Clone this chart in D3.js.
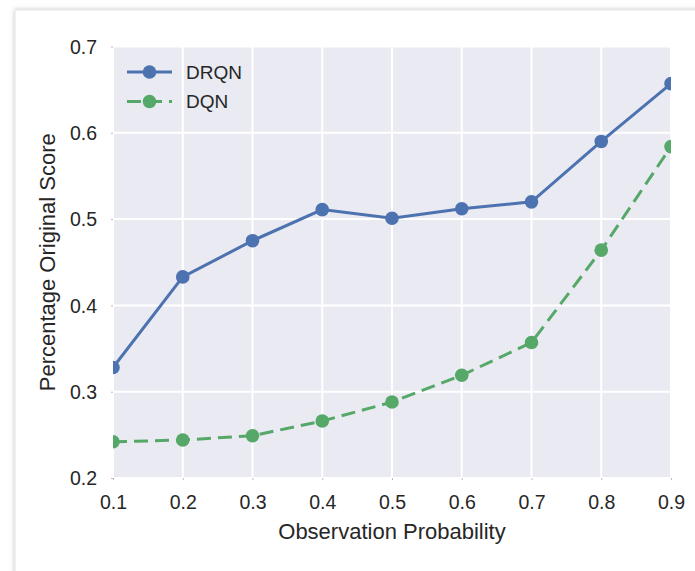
<!DOCTYPE html>
<html>
<head>
<meta charset="utf-8">
<script src="https://cdn.jsdelivr.net/npm/d3@7"></script>
<style>
  html, body { margin: 0; padding: 0; background: #fff; }
  svg { display: block; font-family: "Liberation Sans", Arial, sans-serif; }
</style>
</head>
<body>
<div id="chart"></div>
<script>
const probs = [0.1, 0.2, 0.3, 0.4, 0.5, 0.6, 0.7, 0.8, 0.9];
const drqn = [0.328, 0.433, 0.475, 0.511, 0.501, 0.512, 0.520, 0.590, 0.657];
const dqn = [0.242, 0.244, 0.249, 0.266, 0.288, 0.319, 0.357, 0.464, 0.584];
const xTicks = [0.1, 0.2, 0.3, 0.4, 0.5, 0.6, 0.7, 0.8, 0.9];
const yTicks = [0.2, 0.3, 0.4, 0.5, 0.6, 0.7];

const series = [
  { name: 'DRQN', values: drqn, color: '#4C72B0', dash: null },
  { name: 'DQN', values: dqn, color: '#55A868', dash: '14,7' }
];

const W = 695, H = 571;
const m = { left: 113, right: 24, top: 46.5, bottom: 93 };

const svg = d3.select('#chart').append('svg')
  .attr('width', W).attr('height', H);

// card frame with soft shadow
const defs = svg.append('defs');
const f = defs.append('filter').attr('id', 'sh')
  .attr('x', '-5%').attr('y', '-5%').attr('width', '110%').attr('height', '110%');
f.append('feDropShadow').attr('dx', 0).attr('dy', 0)
  .attr('stdDeviation', 2).attr('flood-color', '#000').attr('flood-opacity', 0.25);
svg.append('rect')
  .attr('x', 15).attr('y', 10).attr('width', W + 20).attr('height', H + 20)
  .attr('fill', '#fff').attr('stroke', '#e4e4e4').attr('filter', 'url(#sh)');

const x = d3.scaleLinear().domain([0.1, 0.9]).range([m.left, W - m.right]);
const y = d3.scaleLinear().domain([0.2, 0.7]).range([H - m.bottom, m.top]);

defs.append('clipPath').attr('id', 'clip').append('rect')
  .attr('x', x(0.1)).attr('y', y(0.7))
  .attr('width', x(0.9) - x(0.1)).attr('height', y(0.2) - y(0.7));

svg.append('rect')
  .attr('x', x(0.1)).attr('y', y(0.7))
  .attr('width', x(0.9) - x(0.1)).attr('height', y(0.2) - y(0.7))
  .attr('fill', '#EAEAF2');

// grid
const grid = svg.append('g');
grid.selectAll('.gx').data(xTicks).join('line')
  .attr('x1', d => x(d)).attr('x2', d => x(d))
  .attr('y1', y(0.2)).attr('y2', y(0.7))
  .attr('stroke', '#fff').attr('stroke-width', 2);
grid.selectAll('.gy').data(yTicks).join('line')
  .attr('y1', d => y(d)).attr('y2', d => y(d))
  .attr('x1', x(0.1)).attr('x2', x(0.9))
  .attr('stroke', '#fff').attr('stroke-width', 2);

// axes
const xAxis = svg.append('g')
  .attr('transform', `translate(0,${y(0.2)})`)
  .call(d3.axisBottom(x).tickValues(xTicks).tickFormat(d3.format('.1f')).tickSize(2).tickPadding(13));
const yAxis = svg.append('g')
  .attr('transform', `translate(${x(0.1)},0)`)
  .call(d3.axisLeft(y).tickValues(yTicks).tickFormat(d3.format('.1f')).tickSize(2).tickPadding(14));
[xAxis, yAxis].forEach(a => {
  a.select('.domain').remove();
  a.selectAll('.tick line').attr('stroke', '#bbb');
  a.selectAll('.tick text').attr('fill', '#262626').style('font-size', '19.5px')
    .style('font-family', '"Liberation Sans", Arial, sans-serif');
});
xAxis.selectAll('.tick text').attr('dy', '0.8em');
yAxis.selectAll('.tick text').attr('dy', '0.35em');

svg.append('text')
  .attr('x', (x(0.1) + x(0.9)) / 2).attr('y', 539)
  .attr('text-anchor', 'middle').attr('fill', '#262626')
  .style('font-size', '22px').text('Observation Probability');
svg.append('text')
  .attr('transform', `translate(55,${(y(0.2) + y(0.7)) / 2}) rotate(-90)`)
  .attr('text-anchor', 'middle').attr('fill', '#262626')
  .style('font-size', '22px').text('Percentage Original Score');

// lines
const plot = svg.append('g').attr('clip-path', 'url(#clip)');
const line = d3.line().x((d, i) => x(probs[i])).y(d => y(d));
series.forEach(s => {
  plot.append('path')
    .attr('d', line(s.values))
    .attr('fill', 'none').attr('stroke', s.color).attr('stroke-width', 3)
    .attr('stroke-dasharray', s.dash);
  plot.selectAll(null).data(s.values).join('circle')
    .attr('cx', (d, i) => x(probs[i])).attr('cy', d => y(d))
    .attr('r', 6.8).attr('fill', s.color);
});

// legend
const leg = svg.append('g');
series.forEach((s, i) => {
  const ly = 72 + i * 29.5;
  leg.append('line')
    .attr('x1', 127).attr('x2', 172).attr('y1', ly).attr('y2', ly)
    .attr('stroke', s.color).attr('stroke-width', 3)
    .attr('stroke-dasharray', s.dash ? '14,7' : null);
  leg.append('circle').attr('cx', 149.5).attr('cy', ly).attr('r', 6.8).attr('fill', s.color);
  leg.append('text').attr('x', 186).attr('y', ly).attr('dy', '0.36em')
    .attr('fill', '#262626').style('font-size', '19px').text(s.name);
});
</script>
</body>
</html>
